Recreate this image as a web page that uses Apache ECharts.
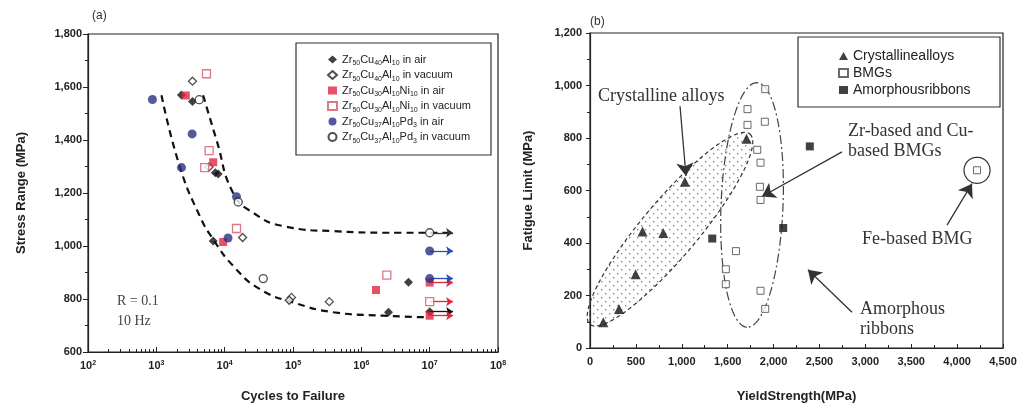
<!DOCTYPE html>
<html>
<head>
<meta charset="utf-8">
<script src="https://cdn.jsdelivr.net/npm/echarts@6/dist/echarts.min.js"></script>
<style>
  html, body { margin: 0; padding: 0; background: #fff; }
  #main { width: 1027px; height: 408px; }
</style>
</head>
<body>
<div id="main"></div>
<script>
// ---- panel (a): S-N data, [cycles, stress range MPa] ----
var airCu = [[2330, 1570], [3380, 1545], [8040, 1272], [7300, 1276], [6800, 1019], [2.5e6, 750], [4.9e6, 863], [1e7, 752]];
var vacCu = [[3380, 1622], [5900, 1298], [18300, 1032], [95000, 806], [88000, 795], [3.4e5, 790]];
var airNi = [[2700, 1568], [6800, 1316], [9500, 1015], [1.64e6, 834], [1e7, 862], [1e7, 737]];
var vacNi = [[5420, 1650], [5930, 1360], [5100, 1296], [14900, 1066], [2.36e6, 890], [1e7, 790]];
var airPd = [[877, 1553], [3340, 1423], [2335, 1296], [14900, 1186], [11200, 1030], [1e7, 877], [1e7, 981]];
var vacPd = [[4240, 1552], [15800, 1166], [36700, 877], [1e7, 1050]];
// run-out arrows (stress levels at 1e7 cycles)
var runAirCu = [752], runAirNi = [862, 737], runVacNi = [790], runAirPd = [877, 981], runVacPd = [1050];
var runEnd = 2.2e7;
// dashed fit curves
var upperCurve = [[4840, 1569], [7600, 1400], [13300, 1200], [26200, 1125], [72000, 1075], [3.9e5, 1056], [3.7e6, 1050], [2.2e7, 1050]];
var lowerCurve = [[1190, 1569], [2200, 1300], [4340, 1112], [6800, 1025], [13300, 925], [32800, 837], [1.01e5, 787], [3.9e5, 750], [2.1e6, 737], [9.1e6, 731]];
var namesA = ['Zr50Cu40Al10 in air', 'Zr50Cu40Al10 in vacuum', 'Zr50Cu30Al10Ni10 in air',
              'Zr50Cu30Al10Ni10 in vacuum', 'Zr50Cu37Al10Pd3 in air', 'Zr50Cu37Al10Pd3 in vacuum'];
var yLabelsA = ['600', '800', '1,000', '1,200', '1,400', '1,600', '1,800'];

// ---- panel (b): [yield strength MPa, fatigue limit MPa] ----
var crystalline = [[145, 98], [316, 149], [497, 281], [573, 444], [798, 438], [1034, 633], [1706, 797]];
var bmgs = [[1909, 986], [1716, 910], [1716, 850], [1905, 862], [1822, 755], [1858, 706], [1851, 614], [1858, 564],
            [1590, 369], [1480, 300], [1480, 243], [1858, 218], [1909, 149], [4217, 677]];
var ribbons = [[2395, 768], [1332, 417], [2105, 457]];
var xLabelsB = ['0', '500', '1,000', '1,600', '2,000', '2,500', '3,000', '3,500', '4,000', '4,500'];
var yLabelsB = ['0', '200', '400', '600', '800', '1,000', '1,200'];
// ellipses: [x1, y1, x2, y2 (ends of long axis), half width px, kind]
var ellipses = [[0, 90, 1743, 815, 28, 0], [1820, 1011, 1711, 79, 31, 1], [4075, 677, 4359, 677, 13, 2]];
// annotation arrows: [fromX, fromY, toX, toY]
var arrowsB = [[981, 921, 1046, 655], [2746, 747, 1874, 577], [3890, 468, 4162, 626], [2855, 136, 2375, 298]];

var chart = echarts.init(document.getElementById('main'));

var dotCanvas = document.createElement('canvas');
dotCanvas.width = 8; dotCanvas.height = 8;
var dctx = dotCanvas.getContext('2d');
dctx.fillStyle = '#888';
dctx.fillRect(1, 1, 1.4, 1.4);
dctx.fillRect(5, 5, 1.4, 1.4);

var sans = 'Liberation Sans';
var serif = 'Liberation Serif';

function runLines(vals) {
  return vals.map(function (v) { return [{ coord: [1e7, v] }, { coord: [runEnd, v] }]; });
}
function runMark(vals, color) {
  return {
    silent: true, symbol: ['none', 'arrow'], symbolSize: 7,
    label: { show: false },
    lineStyle: { color: color, type: 'solid', width: 1.3 },
    data: runLines(vals)
  };
}
function subFmt(name) {
  return name.replace(/(\d+)/g, '{s|$1}');
}

function scatterA(name, data, symbol, size, style, run, runColor) {
  var s = {
    name: name, type: 'scatter', xAxisIndex: 0, yAxisIndex: 0,
    symbol: symbol, symbolSize: size, itemStyle: style, data: data, z: 5
  };
  if (run) s.markLine = runMark(run, runColor);
  return s;
}

var option = {
  animation: false,
  backgroundColor: '#fff',
  textStyle: { fontFamily: sans },
  grid: [
    { left: 88, right: 529, top: 34, bottom: 55, show: true, borderColor: '#222', borderWidth: 1.2 },
    { left: 590, right: 24, top: 33, bottom: 57, show: true, borderColor: '#222', borderWidth: 1.2 }
  ],
  xAxis: [{
    type: 'log', gridIndex: 0, min: 100, max: 1e8, logBase: 10,
    name: 'Cycles to Failure', nameLocation: 'middle', nameGap: 38,
    nameTextStyle: { fontSize: 13, fontWeight: 'bold', color: '#222' },
    axisLine: { lineStyle: { color: '#222', width: 1.2 } },
    axisTick: { inside: true, length: 5, lineStyle: { color: '#222' } },
    minorTick: { show: true, splitNumber: 9, length: 3, lineStyle: { color: '#222' } },
    splitLine: { show: false },
    axisLabel: {
      margin: 8, color: '#222',
      formatter: function (v) { return '{b|10}{e|' + Math.round(Math.log10(v)) + '}'; },
      rich: { b: { fontSize: 11, fontWeight: 'bold', color: '#222' }, e: { fontSize: 7, fontWeight: 'bold', verticalAlign: 'top', color: '#222' } }
    }
  }, {
    type: 'value', gridIndex: 1, min: 0, max: 4500, interval: 500,
    name: 'YieldStrength(MPa)', nameLocation: 'middle', nameGap: 42,
    nameTextStyle: { fontSize: 13, fontWeight: 'bold', color: '#222' },
    axisLine: { lineStyle: { color: '#222', width: 1.2 } },
    axisTick: { inside: true, length: 4, lineStyle: { color: '#222' } },
    minorTick: { show: true, splitNumber: 2, length: 3, lineStyle: { color: '#222' } },
    splitLine: { show: false },
    axisLabel: { fontSize: 11, fontWeight: 'bold', color: '#222', margin: 8,
      formatter: function (v) { return xLabelsB[Math.round(v / 500)]; } }
  }],
  yAxis: [{
    type: 'value', gridIndex: 0, min: 600, max: 1800, interval: 200,
    name: 'Stress Range (MPa)', nameLocation: 'middle', nameGap: 60,
    nameTextStyle: { fontSize: 13, fontWeight: 'bold', color: '#222' },
    axisLine: { lineStyle: { color: '#222', width: 1.2 } },
    axisTick: { length: 5, lineStyle: { color: '#222' } },
    minorTick: { show: true, splitNumber: 2, length: 3, lineStyle: { color: '#222' } },
    splitLine: { show: false },
    axisLabel: { fontSize: 11, fontWeight: 'bold', color: '#222', margin: 6,
      formatter: function (v) { return yLabelsA[Math.round((v - 600) / 200)]; } }
  }, {
    type: 'value', gridIndex: 1, min: 0, max: 1200, interval: 200,
    name: 'Fatigue Limit (MPa)', nameLocation: 'middle', nameGap: 55,
    nameTextStyle: { fontSize: 13, fontWeight: 'bold', color: '#222' },
    axisLine: { lineStyle: { color: '#222', width: 1.2 } },
    axisTick: { length: 4, lineStyle: { color: '#222' } },
    minorTick: { show: true, splitNumber: 2, length: 3, lineStyle: { color: '#222' } },
    splitLine: { show: false },
    axisLabel: { fontSize: 11, fontWeight: 'bold', color: '#222', margin: 8,
      formatter: function (v) { return yLabelsB[Math.round(v / 200)]; } }
  }],
  legend: [{
    data: namesA, orient: 'vertical', left: 322, top: 49,
    itemWidth: 9, itemHeight: 8, itemGap: 2.5,
    formatter: subFmt,
    textStyle: {
      fontSize: 11, color: '#222', fontFamily: sans,
      rich: { s: { fontSize: 7, verticalAlign: 'bottom', lineHeight: 15, color: '#222' } }
    }
  }, {
    data: ['Crystallinealloys', 'BMGs', 'Amorphousribbons'], orient: 'vertical', left: 833, top: 44,
    itemWidth: 9, itemHeight: 8, itemGap: 3,
    textStyle: { fontSize: 14, color: '#222', fontFamily: sans }
  }],
  graphic: [
    { type: 'rect', shape: { x: 296, y: 43, width: 195, height: 112 }, style: { fill: 'none', stroke: '#333', lineWidth: 1.2 } },
    { type: 'rect', shape: { x: 798, y: 37, width: 202, height: 70 }, style: { fill: 'none', stroke: '#333', lineWidth: 1.2 } },
    { type: 'text', left: 92, top: 10, style: { text: '(a)', font: '12px ' + sans, fill: '#333' } },
    { type: 'text', left: 590, top: 16, style: { text: '(b)', font: '12px ' + sans, fill: '#333' } },
    { type: 'text', left: 117, top: 294, style: { text: 'R = 0.1', font: '14px ' + serif, fill: '#444' } },
    { type: 'text', left: 117, top: 314, style: { text: '10 Hz', font: '14px ' + serif, fill: '#444' } },
    { type: 'text', left: 598, top: 87, style: { text: 'Crystalline alloys', font: '18px ' + serif, fill: '#333' } },
    { type: 'text', left: 848, top: 122, style: { text: 'Zr-based and Cu-', font: '18px ' + serif, fill: '#333' } },
    { type: 'text', left: 848, top: 142, style: { text: 'based BMGs', font: '18px ' + serif, fill: '#333' } },
    { type: 'text', left: 862, top: 230, style: { text: 'Fe-based BMG', font: '18px ' + serif, fill: '#333' } },
    { type: 'text', left: 860, top: 300, style: { text: 'Amorphous', font: '18px ' + serif, fill: '#333' } },
    { type: 'text', left: 860, top: 320, style: { text: 'ribbons', font: '18px ' + serif, fill: '#333' } }
  ],
  series: [
    scatterA(namesA[0], airCu, 'diamond', 9, { color: '#111' }, runAirCu, '#111'),
    scatterA(namesA[1], vacCu, 'diamond', 8, { color: '#fff', borderColor: '#222', borderWidth: 1.3 }),
    scatterA(namesA[2], airNi, 'rect', 8, { color: '#e3243f' }, runAirNi, '#e3243f'),
    scatterA(namesA[3], vacNi, 'rect', 8, { color: '#fff', borderColor: '#d4566a', borderWidth: 1.3 }, runVacNi, '#e3243f'),
    scatterA(namesA[4], airPd, 'circle', 9, { color: '#2b2f82' }, runAirPd, '#2b4fb0'),
    scatterA(namesA[5], vacPd, 'circle', 8, { color: '#fff', borderColor: '#222', borderWidth: 1.3 }, runVacPd, '#333'),
    { type: 'line', xAxisIndex: 0, yAxisIndex: 0, data: upperCurve, smooth: true, symbol: 'none', silent: true,
      lineStyle: { color: '#111', width: 2.2, type: [7, 5] }, z: 3 },
    { type: 'line', xAxisIndex: 0, yAxisIndex: 0, data: lowerCurve, smooth: true, symbol: 'none', silent: true,
      lineStyle: { color: '#111', width: 2.2, type: [7, 5] }, z: 3 },
    {
      type: 'custom', xAxisIndex: 1, yAxisIndex: 1, data: ellipses, silent: true, z: 1,
      renderItem: function (params, api) {
        var p1 = api.coord([api.value(0), api.value(1)]);
        var p2 = api.coord([api.value(2), api.value(3)]);
        var b = api.value(4), kind = api.value(5);
        var cx = (p1[0] + p2[0]) / 2, cy = (p1[1] + p2[1]) / 2;
        var dx = p2[0] - p1[0], dy = p2[1] - p1[1];
        var a = Math.sqrt(dx * dx + dy * dy) / 2, ang = Math.atan2(dy, dx);
        var ca = Math.cos(ang), sa = Math.sin(ang), pts = [];
        for (var i = 0; i < 90; i++) {
          var t = i / 90 * Math.PI * 2;
          pts.push([cx + a * Math.cos(t) * ca - b * Math.sin(t) * sa, cy + a * Math.cos(t) * sa + b * Math.sin(t) * ca]);
        }
        var style = kind === 0
          ? { fill: { image: dotCanvas, repeat: 'repeat' }, stroke: '#333', lineWidth: 1.2, lineDash: [4, 3] }
          : kind === 1
            ? { fill: 'none', stroke: '#444', lineWidth: 1.2, lineDash: [9, 3, 2, 3] }
            : { fill: 'none', stroke: '#333', lineWidth: 1.2 };
        return { type: 'polygon', shape: { points: pts }, style: style };
      }
    },
    { name: 'Crystallinealloys', type: 'scatter', xAxisIndex: 1, yAxisIndex: 1, data: crystalline,
      symbol: 'triangle', symbolSize: 10, itemStyle: { color: '#111' }, z: 5 },
    { name: 'BMGs', type: 'scatter', xAxisIndex: 1, yAxisIndex: 1, data: bmgs,
      symbol: 'rect', symbolSize: 7, itemStyle: { color: '#fff', borderColor: '#444', borderWidth: 1 }, z: 5 },
    { name: 'Amorphousribbons', type: 'scatter', xAxisIndex: 1, yAxisIndex: 1, data: ribbons,
      symbol: 'rect', symbolSize: 8, itemStyle: { color: '#111' }, z: 5,
      markLine: {
        silent: true, symbol: ['none', 'arrow'], symbolSize: 13,
        label: { show: false },
        lineStyle: { color: '#333', type: 'solid', width: 1.3 },
        data: arrowsB.map(function (a) { return [{ coord: [a[0], a[1]] }, { coord: [a[2], a[3]] }]; })
      }
    }
  ]
};
chart.setOption(option);
</script>
</body>
</html>
